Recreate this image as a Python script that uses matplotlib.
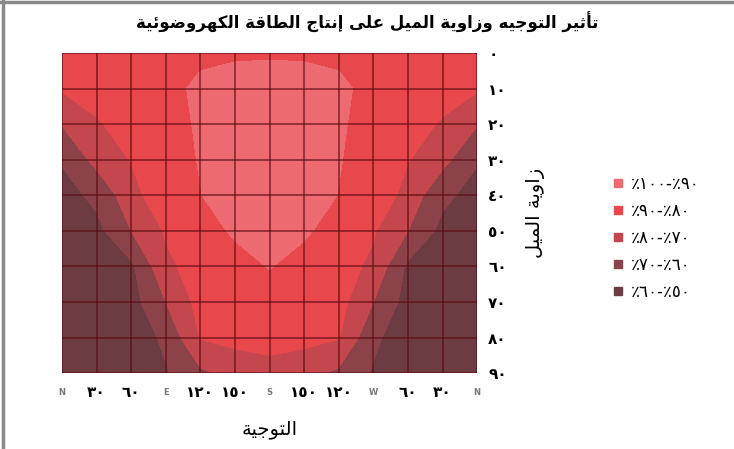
import matplotlib
matplotlib.use('Agg')
import matplotlib.pyplot as plt
import numpy as np
from matplotlib.lines import Line2D

plt.rcParams['font.family'] = ['DejaVu Sans']

# matplotlib does not shape arabic, so map letters to presentation forms and reverse
AR_LETTERS = 'ءآأؤإئابةتثجحخدذرزسشصضطظعغفقكلمنهوىي'
AR_NFORMS = [1, 2, 2, 2, 2, 4, 2, 4, 2, 4, 4, 4, 4, 4, 2, 2, 2, 2,
             4, 4, 4, 4, 4, 4, 4, 4, 4, 4, 4, 4, 4, 4, 4, 2, 2, 4]
FORMS = {}
code = 0xFE80
for ch, n in zip(AR_LETTERS, AR_NFORMS):
    FORMS[ch] = code
    code += n
NFORMS = dict(zip(AR_LETTERS, AR_NFORMS))
LAM_ALEF = {'آ': 0xFEF5, 'أ': 0xFEF7, 'إ': 0xFEF9, 'ا': 0xFEFB}


def arabic(text):
    tokens = []
    i = 0
    while i < len(text):
        if text[i] == 'ل' and i + 1 < len(text) and text[i + 1] in LAM_ALEF:
            tokens.append('LA' + text[i + 1])
            i += 2
        else:
            tokens.append(text[i])
            i += 1

    def joining(t):
        return t.startswith('LA') or NFORMS.get(t, 0) > 1

    def dual(t):
        return NFORMS.get(t, 0) == 4

    out = []
    for k, t in enumerate(tokens):
        prev = tokens[k - 1] if k > 0 else ''
        nxt = tokens[k + 1] if k + 1 < len(tokens) else ''
        p = dual(prev) and joining(t)
        if t.startswith('LA'):
            out.append(chr(LAM_ALEF[t[2]] + (1 if p else 0)))
            continue
        if t not in FORMS:
            out.append(t)
            continue
        n = dual(t) and joining(nxt)
        idx = 3 if (p and n) else 1 if p else 2 if n else 0
        out.append(chr(FORMS[t] + idx))
    return ''.join(out[::-1])


title = 'تأثير التوجيه وزاوية الميل على إنتاج الطاقة الكهروضوئية'
x_title = 'التوجية'
y_title = 'زاوية الميل'

azimuth = [0, 30, 60, 90, 120, 150, 180, 210, 240, 270, 300, 330, 360]
azimuth_labels = ['N', '٣٠', '٦٠', 'E', '١٢٠', '١٥٠', 'S', '١٥٠', '١٢٠', 'W', '٦٠', '٣٠', 'N']
tilt = [0, 10, 20, 30, 40, 50, 60, 70, 80, 90]
tilt_labels = ['٠', '١٠', '٢٠', '٣٠', '٤٠', '٥٠', '٦٠', '٧٠', '٨٠', '٩٠']

# yield (%), one row per tilt angle, columns by azimuth
yield_t0 = [87, 87, 88, 88, 89, 89, 89, 89, 89, 88, 88, 87, 87]
yield_t10 = [81, 84, 86, 88.5, 91, 93, 94, 93, 91, 88.5, 86, 84, 81]
yield_t20 = [70.5, 79, 84, 87, 91, 94, 95, 94, 91, 87, 84, 79, 70.5]
yield_t30 = [61, 73, 80.5, 86, 90.5, 94, 95, 94, 90.5, 86, 80.5, 73, 61]
yield_t40 = [56, 62.5, 76, 88, 89.8, 94, 95, 94, 89.8, 88, 76, 62.5, 56]
yield_t50 = [53, 57, 70, 81, 87, 91, 93, 91, 87, 81, 70, 57, 53]
yield_t60 = [52, 54, 58, 78, 84, 87.5, 90.3, 87.5, 84, 78, 58, 54, 52]
yield_t70 = [51, 52.5, 56, 70, 83.5, 86, 87, 86, 83.5, 70, 56, 52.5, 51]
yield_t80 = [50.5, 51.5, 54, 62, 80.5, 83, 84, 83, 80.5, 62, 54, 51.5, 50.5]
yield_t90 = [50, 51, 53, 59, 68, 73.5, 76, 73.5, 68, 59, 53, 51, 50]

levels = [50, 60, 70, 80, 90, 100]
level_labels = ['٪١٠٠-٪٩٠', '٪٩٠-٪٨٠', '٪٨٠-٪٧٠', '٪٧٠-٪٦٠', '٪٦٠-٪٥٠']
band_colors = ['#6c3c42', '#8c4249', '#c4474e', '#e8474b', '#ec6a70']

grid = np.array([yield_t0, yield_t10, yield_t20, yield_t30, yield_t40,
                 yield_t50, yield_t60, yield_t70, yield_t80, yield_t90])

fig = plt.figure(figsize=(7.34, 4.49), dpi=100)
ax = fig.add_axes([0.0845, 0.169, 0.5655, 0.713])

ax.contourf(azimuth, tilt, grid, levels=levels, colors=band_colors)
ax.set_xlim(0, 360)
ax.set_ylim(90, 0)

ax.set_xticks(azimuth)
ax.set_xticklabels(azimuth_labels)
for lab in ax.get_xticklabels():
    if lab.get_text() in ('N', 'E', 'S', 'W'):
        lab.set_fontsize(6)
        lab.set_color('#777777')
    else:
        lab.set_fontsize(11)
    lab.set_fontweight('bold')
    lab.set_verticalalignment('center')
ax.set_yticks(tilt)
ax.set_yticklabels(tilt_labels, fontsize=11, fontweight='bold')
ax.yaxis.tick_right()
ax.yaxis.set_label_position('right')
ax.tick_params(axis='x', length=0, pad=14)
ax.tick_params(axis='y', length=0, pad=8)

ax.set_axisbelow(False)
ax.grid(True, color='#5a0a10', linewidth=1.4, alpha=0.6)
for s in ax.spines.values():
    s.set_visible(False)

ax.set_xlabel(arabic(x_title), fontsize=14, labelpad=14)
ax.set_ylabel(arabic(y_title), fontsize=14, rotation=90, labelpad=14)
fig.text(0.501, 0.951, arabic(title), fontsize=12, fontweight='bold', ha='center', va='center')

handles = [Line2D([], [], marker='s', linestyle='', markersize=6, color=c)
           for c in band_colors[::-1]]
fig.legend(handles, level_labels, loc='center left', bbox_to_anchor=(0.81, 0.47),
           frameon=False, fontsize=12, labelspacing=0.55, handletextpad=0.3,
           handlelength=1.0)

fig.add_artist(Line2D([0, 1], [0.996, 0.996], color='#8a8a8a', linewidth=2.5,
                      transform=fig.transFigure))
fig.add_artist(Line2D([0.004, 0.004], [0, 1], color='#8a8a8a', linewidth=2.5,
                      transform=fig.transFigure))

fig.savefig('out.png', dpi=100)
